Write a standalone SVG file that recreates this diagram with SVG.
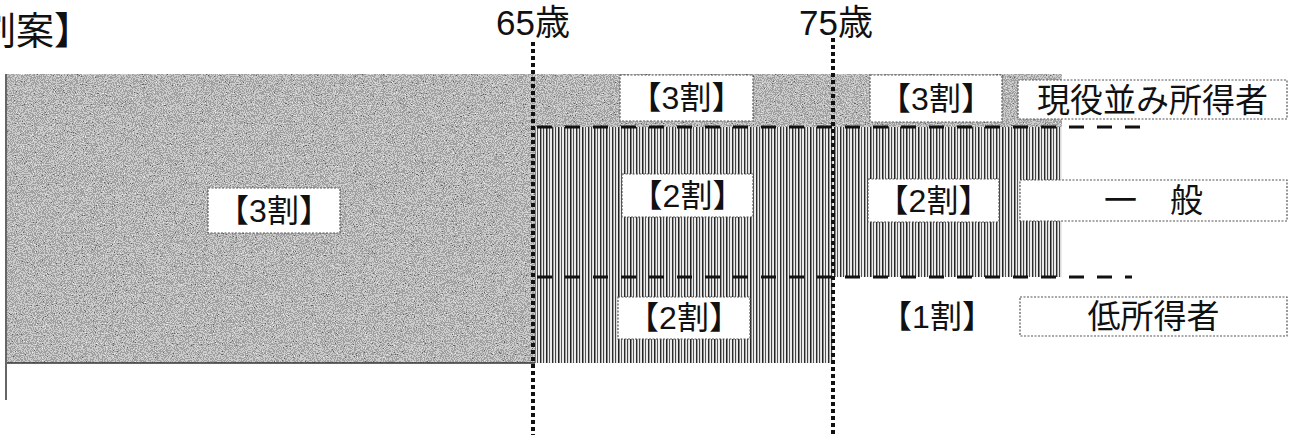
<svg xmlns="http://www.w3.org/2000/svg" width="1292" height="435" viewBox="0 0 1292 435">
<style>
  text { font-family: "Liberation Sans", "Noto Sans CJK JP", sans-serif; fill: #111; }
  .lbl { font-size: 32px; text-anchor: middle; dominant-baseline: central; }
  .cat { font-size: 33px; text-anchor: middle; dominant-baseline: central; }
  .age { font-size: 35px; }
  .box { fill: #fff; stroke: #555; stroke-width: 1.2; stroke-dasharray: 2 1.5; }
  .dash { stroke: #111; stroke-width: 3; stroke-dasharray: 15 13; fill: none; }
  .dot { stroke: #111; stroke-width: 4; stroke-dasharray: 4 3; fill: none; }
</style>
<defs>
  <filter id="grain" x="0" y="0" width="100%" height="100%" filterUnits="objectBoundingBox">
    <feTurbulence type="fractalNoise" baseFrequency="0.9" numOctaves="2" seed="7" result="t"/>
    <feColorMatrix in="t" type="matrix" values="1 0 0 0 0  1 0 0 0 0  1 0 0 0 0  0 0 0 0 1" result="g"/>
    <feComponentTransfer in="g">
      <feFuncR type="discrete" tableValues="0.12 0.35 0.6 0.85"/>
      <feFuncG type="discrete" tableValues="0.12 0.35 0.6 0.85"/>
      <feFuncB type="discrete" tableValues="0.12 0.35 0.6 0.85"/>
    </feComponentTransfer>
  </filter>
  <pattern id="stripes" x="0" y="0" width="12" height="10" patternUnits="userSpaceOnUse">
    <rect width="12" height="10" fill="#ececec"/>
    <rect x="0" width="1.4" height="10" fill="#2a2a2a"/>
    <rect x="3" width="1.1" height="10" fill="#444"/>
    <rect x="6" width="1.5" height="10" fill="#222"/>
    <rect x="9" width="1" height="10" fill="#555"/>
  </pattern>
</defs>

<g id="title">
  <text x="-22" y="44" style="font-size:38px">割案】</text>
</g>

<g id="regions">
  <rect x="7" y="74" width="1055" height="53" fill="#8e8e8e"/>
  <rect x="7" y="74" width="1055" height="53" fill="#8e8e8e" filter="url(#grain)"/>
  <rect x="7" y="127" width="528" height="236" fill="#8e8e8e"/>
  <rect x="7" y="127" width="528" height="236" fill="#8e8e8e" filter="url(#grain)"/>
  <rect x="535" y="127" width="527" height="150" fill="url(#stripes)"/>
  <rect x="535" y="277" width="298" height="86" fill="url(#stripes)"/>
  <line x1="7" y1="363" x2="535" y2="363" stroke="#333" stroke-width="1.5"/>
  <line x1="6" y1="74" x2="6" y2="400" stroke="#333" stroke-width="1.5"/>
</g>

<g id="connectors">
  <line class="dash" x1="537" y1="127" x2="1147" y2="127"/>
  <line class="dash" x1="537" y1="277" x2="1132" y2="277"/>
  <line class="dot" x1="533" y1="42" x2="533" y2="435"/>
  <line class="dot" x1="833" y1="38" x2="833" y2="435"/>
</g>

<g id="age65">
  <text class="age" x="496" y="35">65歳</text>
</g>
<g id="age75">
  <text class="age" x="799" y="35">75歳</text>
</g>

<g id="under65">
  <rect class="box" x="208" y="188" width="132" height="45"/>
  <text class="lbl" x="274" y="210.5">【3割】</text>
</g>

<g id="mid-high">
  <rect class="box" x="620" y="75" width="133" height="46"/>
  <text class="lbl" x="686.5" y="98">【3割】</text>
</g>
<g id="mid-general">
  <rect class="box" x="622" y="174" width="131" height="43"/>
  <text class="lbl" x="687.5" y="195.5">【2割】</text>
</g>
<g id="mid-low">
  <rect class="box" x="618" y="297" width="132" height="42"/>
  <text class="lbl" x="684" y="318">【2割】</text>
</g>

<g id="old-high">
  <rect class="box" x="870" y="75" width="132" height="47"/>
  <text class="lbl" x="936" y="98.5">【3割】</text>
</g>
<g id="old-general">
  <rect class="box" x="868" y="179" width="131" height="43"/>
  <text class="lbl" x="933.5" y="200.5">【2割】</text>
</g>
<g id="old-low">
  <text class="lbl" x="937" y="317">【1割】</text>
</g>

<g id="cat-high">
  <rect class="box" x="1018" y="80" width="269" height="39"/>
  <text class="cat" x="1152.5" y="100">現役並み所得者</text>
</g>
<g id="cat-general">
  <rect class="box" x="1020" y="180" width="267" height="41"/>
  <text class="cat" x="1153.5" y="200.5">一　般</text>
</g>
<g id="cat-low">
  <rect class="box" x="1020" y="297" width="267" height="39"/>
  <text class="cat" x="1153.5" y="316.5">低所得者</text>
</g>
</svg>
